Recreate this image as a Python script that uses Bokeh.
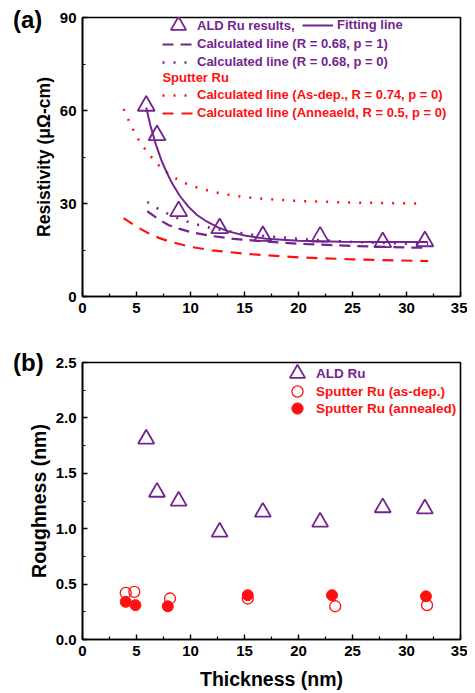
from bokeh.plotting import figure
from bokeh.models import Legend, LegendItem, Label, FixedTicker, PrintfTickFormatter, Div
from bokeh.layouts import column
from bokeh.embed import file_html
from bokeh.resources import INLINE

# ---------------- data (panel a) ----------------
ald_thk = [5.9, 6.9, 8.9, 12.7, 16.7, 22.0, 27.8, 31.7]
ald_rho = [61.5, 52.0, 27.5, 22.0, 19.5, 19.3, 17.5, 17.8]

fit_x = [5.9, 6.3, 6.8, 7.3, 7.8, 8.3, 9.0, 9.8, 10.6, 11.5, 12.5, 13.5, 15.0, 17.0, 20.0, 24.0, 28.0, 32.0]
fit_y = [61.0, 55.0, 49.0, 44.0, 40.0, 36.5, 32.5, 29.0, 26.3, 24.2, 22.4, 21.0, 19.7, 18.6, 18.0, 17.7, 17.6, 17.6]

calc_p1_x = [6.0, 7.0, 8.0, 9.0, 10.0, 12.0, 14.0, 16.0, 20.0, 25.0, 30.0, 32.0]
calc_p1_y = [27.5, 25.0, 23.0, 21.8, 20.8, 19.5, 18.6, 18.0, 17.0, 16.3, 15.8, 15.7]

calc_p0_x = [6.0, 7.0, 8.0, 9.0, 10.0, 12.0, 14.0, 16.0, 20.0, 25.0, 30.0, 32.0]
calc_p0_y = [30.5, 28.3, 26.5, 25.0, 23.8, 22.0, 20.8, 19.8, 18.6, 17.6, 17.0, 16.9]

asdep_x = [3.8, 4.5, 5.2, 6.0, 7.0, 8.0, 9.0, 10.0, 12.0, 14.0, 16.0, 20.0, 25.0, 31.3]
asdep_y = [60.5, 55.0, 50.5, 46.5, 42.5, 39.5, 37.3, 35.8, 33.8, 32.5, 31.7, 30.8, 30.3, 30.0]

anneal_x = [3.8, 5.0, 6.0, 7.0, 8.0, 10.0, 12.0, 15.0, 20.0, 25.0, 32.0]
anneal_y = [25.3, 22.5, 20.6, 19.0, 17.8, 16.0, 14.9, 13.8, 12.6, 12.0, 11.4]

# ---------------- data (panel b) ----------------
ald_rough = [1.81, 1.33, 1.25, 0.97, 1.15, 1.06, 1.19, 1.18]

asdep_thk = [4.0, 4.8, 8.1, 15.3, 23.4, 31.9]
asdep_rough = [0.42, 0.43, 0.37, 0.37, 0.30, 0.31]

ann_thk = [4.0, 4.9, 7.9, 15.3, 23.1, 31.8]
ann_rough = [0.34, 0.31, 0.30, 0.40, 0.40, 0.39]

x_ticks = [0, 5, 10, 15, 20, 25, 30, 35]
ya_ticks = [0, 30, 60, 90]
yb_ticks = [0.0, 0.5, 1.0, 1.5, 2.0, 2.5]

PURPLE = "#74248F"
RED = "#FF1010"
FONT = "Liberation Sans"

def style(p):
    p.outline_line_color = "black"
    p.outline_line_width = 1.6
    p.xgrid.visible = False
    p.ygrid.visible = False
    p.background_fill_color = "white"
    for ax in (p.xaxis[0], p.yaxis[0]):
        ax.axis_line_width = 1.6
        ax.major_tick_in = 5
        ax.major_tick_out = 0
        ax.minor_tick_in = 3
        ax.minor_tick_out = 0
        ax.major_tick_line_width = 1.4
        ax.minor_tick_line_width = 1.2
        ax.major_label_text_font = FONT
        ax.major_label_text_font_style = "bold"
        ax.major_label_text_font_size = "15px"
        ax.major_label_text_color = "black"
        ax.axis_label_text_font = FONT
        ax.axis_label_text_font_style = "bold"
        ax.axis_label_text_color = "black"
        ax.major_label_standoff = 6
    p.xaxis.ticker = FixedTicker(ticks=x_ticks, minor_ticks=[2.5 + 5 * i for i in range(7)])

def panel_div(text, up):
    html = ('<div style="font-family: \'Liberation Sans\'; font-weight: bold; font-size: 24px; '
            'line-height: 28px; color: black; white-space: nowrap;">%s</div>' % text)
    return Div(text=html, width=40, height=28, margin=(-up, 0, up - 28, 13),
               styles={"overflow": "visible", "z-index": "10", "position": "relative"})

def leg(item, loc, color, gw, gh, standoff, size="13px"):
    return Legend(items=[item], location=loc, orientation="vertical",
                  label_text_font=FONT, label_text_font_style="bold",
                  label_text_font_size=size, label_text_color=color,
                  glyph_width=gw, glyph_height=gh, label_height=14, label_standoff=standoff,
                  padding=0, margin=0, spacing=3,
                  background_fill_alpha=0, border_line_alpha=0)

# ---------------- panel (a) ----------------
pa = figure(width=467, height=330, x_range=(0, 35), y_range=(0, 90),
            output_backend="svg", toolbar_location=None,
            min_border_left=82, min_border_right=7, min_border_top=17, min_border_bottom=34)
style(pa)
pa.yaxis.ticker = FixedTicker(ticks=ya_ticks, minor_ticks=[15, 45, 75])
pa.yaxis.axis_label = "Resistivity (\u03bc\u03a9-cm)"
pa.yaxis.axis_label_text_font_size = "17.5px"
pa.yaxis.axis_label_standoff = 3

r_asdep = pa.line(asdep_x, asdep_y, line_color=RED, line_width=2.5, line_dash="2 9")
r_ann = pa.line(anneal_x, anneal_y, line_color=RED, line_width=2.2, line_dash="11 8")
r_p1 = pa.line(calc_p1_x, calc_p1_y, line_color=PURPLE, line_width=2.2, line_dash="11 7")
r_p0 = pa.line(calc_p0_x, calc_p0_y, line_color=PURPLE, line_width=2.5, line_dash="2 9")
r_fit = pa.line(fit_x, fit_y, line_color=PURPLE, line_width=2.0)
r_ald = pa.scatter(ald_thk, ald_rho, marker="triangle", size=17, fill_color=None,
                   line_color=PURPLE, line_width=1.8)

lgA1 = leg(LegendItem(label="ALD Ru results,", renderers=[r_ald]), (77, 250), PURPLE, 38, 42, 0)
lgA2 = leg(LegendItem(label="Fitting line", renderers=[r_fit]), (220, 264), PURPLE, 31, 14, 4)
lgB = Legend(items=[LegendItem(label="Calculated line (R = 0.68, p = 1)", renderers=[r_p1]),
                    LegendItem(label="Calculated line (R = 0.68, p = 0)", renderers=[r_p0])],
             location=(80, 227), label_text_font=FONT, label_text_font_style="bold",
             label_text_font_size="13px", label_text_color=PURPLE,
             glyph_width=31, glyph_height=14, label_height=14, label_standoff=4,
             padding=0, margin=0, spacing=3, background_fill_alpha=0, border_line_alpha=0)
lgC = Legend(items=[LegendItem(label="Calculated line (As-dep., R = 0.74, p = 0)", renderers=[r_asdep]),
                    LegendItem(label="Calculated line (Anneaeld, R = 0.5, p = 0)", renderers=[r_ann])],
             location=(80, 176), label_text_font=FONT, label_text_font_style="bold",
             label_text_font_size="13px", label_text_color=RED,
             glyph_width=31, glyph_height=14, label_height=14, label_standoff=4,
             padding=0, margin=0, spacing=3, background_fill_alpha=0, border_line_alpha=0)
for lg in (lgA1, lgA2, lgB, lgC):
    pa.add_layout(lg, "center")

pa.add_layout(Label(x=7.4, y=70.6, text="Sputter Ru", text_color=RED, text_font=FONT,
                    text_font_style="bold", text_font_size="13px", text_baseline="middle"))

# ---------------- panel (b) ----------------
pb = figure(width=467, height=363, x_range=(0, 35), y_range=(0, 2.5),
            output_backend="svg", toolbar_location=None,
            min_border_left=82, min_border_right=7, min_border_top=32, min_border_bottom=54)
style(pb)
pb.yaxis.ticker = FixedTicker(ticks=yb_ticks, minor_ticks=[0.25 + 0.5 * i for i in range(5)])
pb.yaxis.formatter = PrintfTickFormatter(format="%.1f")
pb.yaxis.axis_label = "Roughness (nm)"
pb.yaxis.axis_label_text_font_size = "19.5px"
pb.yaxis.axis_label_standoff = 3
pb.xaxis.axis_label = "Thickness (nm)"
pb.xaxis.axis_label_text_font_size = "19.5px"
pb.xaxis.axis_label_standoff = 9

s_ald = pb.scatter(ald_thk, ald_rough, marker="triangle", size=16, fill_color=None,
                   line_color=PURPLE, line_width=1.8)
s_as = pb.scatter(asdep_thk, asdep_rough, marker="circle", size=11, fill_color=None,
                  line_color=RED, line_width=1.3)
s_an = pb.scatter(ann_thk, ann_rough, marker="circle", size=11, fill_color=RED,
                  line_color=RED, line_width=1.0)

lgD = leg(LegendItem(label="ALD Ru", renderers=[s_ald]), (196, 245), PURPLE, 38, 42, 0, "13.5px")
lgE1 = leg(LegendItem(label="Sputter Ru (as-dep.)", renderers=[s_as]), (201, 234), RED, 28, 28, 5, "13.5px")
lgE2 = leg(LegendItem(label="Sputter Ru (annealed)", renderers=[s_an]), (201, 217), RED, 28, 28, 5, "13.5px")
for lg in (lgD, lgE1, lgE2):
    pb.add_layout(lg, "center")

div_a = panel_div("(a)", 330 - 6)
div_b = panel_div("(b)", 363 - 19)

layout = column(pa, div_a, pb, div_b, spacing=0)
open("out.html", "w").write(file_html(layout, INLINE))
